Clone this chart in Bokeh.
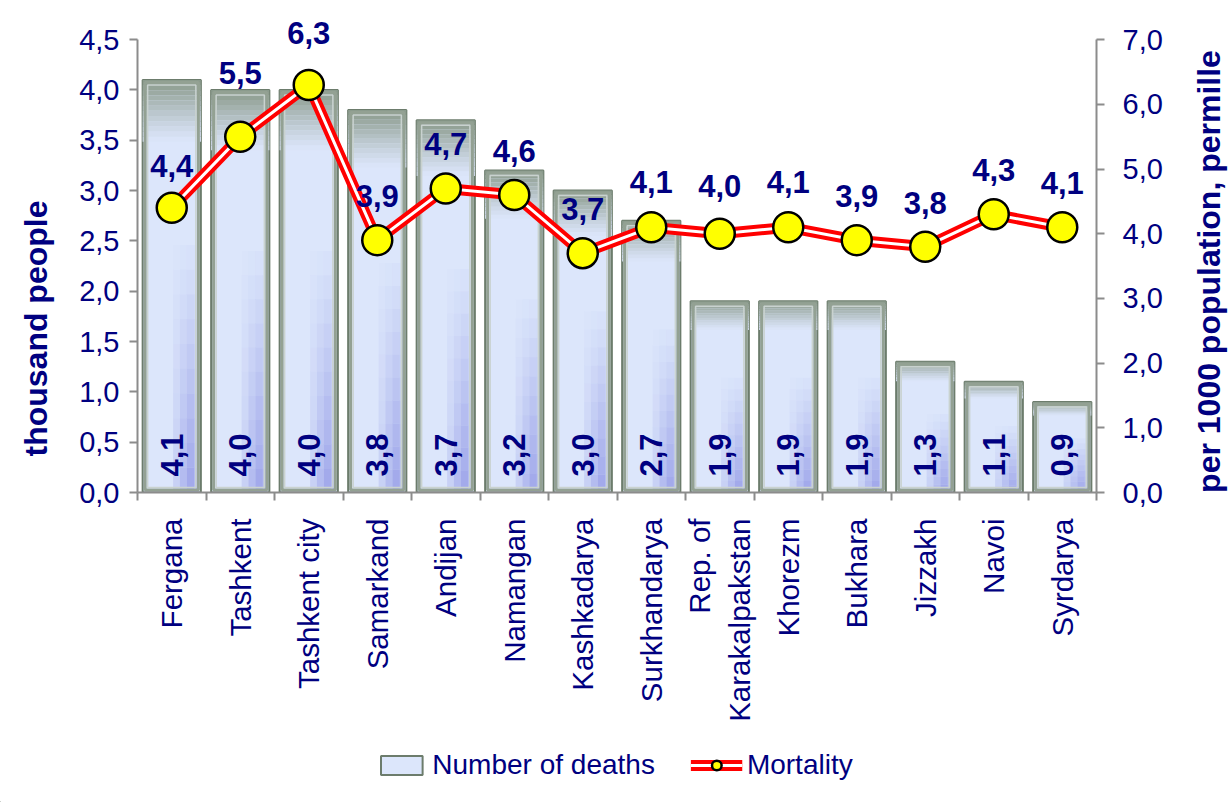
import numpy as np
from bokeh.plotting import figure
from bokeh.layouts import row, column
from bokeh.models import (Range1d, LinearAxis, FixedTicker, CustomJSTickFormatter,
                          Legend, LegendItem, ColumnDataSource)
from bokeh.core.properties import value
from bokeh.embed import file_html
from bokeh.resources import INLINE

# ---------------- data ----------------
regions = ["Fergana", "Tashkent", "Tashkent city", "Samarkand", "Andijan", "Namangan",
           "Kashkadarya", "Surkhandarya", "Rep. of\nKarakalpakstan", "Khorezm", "Bukhara",
           "Jizzakh", "Navoi", "Syrdarya"]
deaths = [4.1, 4.0, 4.0, 3.8, 3.7, 3.2, 3.0, 2.7, 1.9, 1.9, 1.9, 1.3, 1.1, 0.9]
mortality = [4.4, 5.5, 6.3, 3.9, 4.7, 4.6, 3.7, 4.1, 4.0, 4.1, 3.9, 3.8, 4.3, 4.1]
left_ticks = [0.0, 0.5, 1.0, 1.5, 2.0, 2.5, 3.0, 3.5, 4.0, 4.5]
right_ticks = [0.0, 1.0, 2.0, 3.0, 4.0, 5.0, 6.0, 7.0]
left_title = "thousand people"
right_title = "per 1000 population, permille"
series_names = ["Number of deaths", "Mortality"]

# label lift (px) of the mortality labels above their markers (style)
label_lift = [31, 53, 41, 33, 33, 33, 33, 34, 37, 34, 33, 33, 33, 33]

NAVY = "#000080"
FONT = "Liberation Sans"
AXIS = "#8c8c8c"

n = len(regions)
xc = np.arange(n) + 0.5
d = np.array(deaths)
m = np.array(mortality)

YL = 4.76
YR = YL * 7.0 / 4.5
FW, FH = 959, 479
PXX = n / FW      # one pixel in x units
PXY = YL / FH     # one pixel in y units

TOTAL_W = 1228
LEFT_W, RIGHT_W = 60, 62
TOP, BOTTOM = 13, 235
MAIN_H = TOP + FH + BOTTOM
LEG_H = 802 - MAIN_H

def fmt(v):
    return f"{v:.1f}".replace(".", ",")

def mix(c1, c2, t):
    a = [int(c1[i:i + 2], 16) for i in (1, 3, 5)]
    b = [int(c2[i:i + 2], 16) for i in (1, 3, 5)]
    return "#%02x%02x%02x" % tuple(int(round(a[k] + (b[k] - a[k]) * t)) for k in range(3))

def blank(w, h, yr):
    f = figure(width=w, height=h, x_range=Range1d(0, w), y_range=yr,
               output_backend="svg", toolbar_location=None,
               min_border_left=0, min_border_right=0, min_border_top=0, min_border_bottom=0)
    f.axis.visible = False
    f.grid.visible = False
    f.outline_line_color = None
    f.background_fill_color = "white"
    f.border_fill_color = "white"
    return f

p = figure(frame_width=FW, frame_height=FH, x_range=Range1d(0, n), y_range=Range1d(0, YL),
           output_backend="svg", toolbar_location=None,
           min_border_left=137 - LEFT_W, min_border_right=TOTAL_W - RIGHT_W - 137 - FW,
           min_border_top=TOP, min_border_bottom=BOTTOM)
p.extra_y_ranges = {"right": Range1d(0, YR)}
p.xgrid.visible = False
p.ygrid.visible = False
p.outline_line_color = None
p.background_fill_color = "white"
p.border_fill_color = "white"

# ---------------- axes ----------------
def style_y(ax, standoff):
    ax.major_label_text_font_size = "29px"
    ax.major_label_text_color = NAVY
    ax.major_label_text_font = FONT
    ax.axis_line_color = AXIS
    ax.axis_line_width = 2
    ax.major_tick_line_color = AXIS
    ax.major_tick_line_width = 2
    ax.major_tick_out = 8
    ax.major_tick_in = 0
    ax.minor_tick_line_color = None
    ax.major_label_standoff = standoff

ya = p.yaxis[0]
ya.ticker = FixedTicker(ticks=left_ticks)
ya.bounds = (0, 4.5)
ya.formatter = CustomJSTickFormatter(code="return tick.toFixed(1).replace('.', ',')")
style_y(ya, 10)

ra = LinearAxis(y_range_name="right", ticker=FixedTicker(ticks=right_ticks), bounds=(0, 7),
                formatter=CustomJSTickFormatter(code="return tick.toFixed(1).replace('.', ',')"))
style_y(ra, 18)
p.add_layout(ra, "right")

xa = p.xaxis[0]
xa.ticker = FixedTicker(ticks=list(xc), minor_ticks=list(range(n + 1)))
xa.formatter = CustomJSTickFormatter(args=dict(names=regions),
                                     code="return names[Math.round(tick - 0.5)]")
xa.major_label_orientation = np.pi / 2
xa.major_label_text_font_size = "29.5px"
xa.major_label_text_color = NAVY
xa.major_label_text_font = FONT
xa.major_tick_line_color = None
xa.major_tick_out = 8
xa.major_tick_in = 0
xa.minor_tick_line_color = AXIS
xa.minor_tick_line_width = 2
xa.minor_tick_out = 8
xa.minor_tick_in = 0
xa.axis_line_color = AXIS
xa.axis_line_width = 2
xa.major_label_standoff = 18

# ---------------- bars ----------------
W = 0.85
src = ColumnDataSource(dict(x=xc, top=d, lab=[fmt(v) for v in deaths]))
BAR_STYLE = dict(fill_color="#dce6fb", line_color="#6c7c6c", line_width=2)
base = p.vbar(x="x", width=W, top="top", bottom=0, source=src, **BAR_STYLE)

# gray-green shading at the top of each bar
steps = 12
for i in range(steps):
    f0 = 0.85 + 0.15 * i / steps
    f1 = 0.85 + 0.15 * (i + 1) / steps
    col = mix("#dce6fb", "#879787", ((i + 0.5) / steps) ** 1.2)
    p.vbar(x=xc, width=W, top=d * f1, bottom=d * f0, fill_color=col, line_color=None)

# bluish-purple tint at the lower right of each bar
strips = [(0.02, 0.12, 0.35), (0.12, 0.22, 0.7), (0.22, 0.33, 1.0), (0.33, 0.39, 0.7)]
vsteps = 10
for (a0, a1, fac) in strips:
    for j in range(vsteps):
        g0 = 0.6 * j / vsteps
        g1 = 0.6 * (j + 1) / vsteps
        alpha = fac * 0.7 * (1 - j / vsteps) ** 1.1
        p.vbar(x=xc + (a0 + a1) / 2, width=(a1 - a0), top=d * g1, bottom=d * g0,
               fill_color="#8a90e4", fill_alpha=alpha, line_color=None)

# bevel outlines
p.vbar(x=xc, width=W - 5 * PXX, top=d - 2.5 * PXY, bottom=2.5 * PXY,
       fill_color=None, line_color="#93a193", line_width=3)
p.vbar(x=xc, width=W - 10 * PXX, top=d - 5 * PXY, bottom=5 * PXY,
       fill_color=None, line_color="#c9d2cf", line_width=1.5)

p.text(x="x", y=0, text="lab", source=src, angle=np.pi / 2, text_align="left",
       text_baseline="middle", y_offset=-16, text_font=value(FONT), text_font_size="31px",
       text_font_style="bold", text_color=NAVY)

# ---------------- mortality line ----------------
msrc = ColumnDataSource(dict(x=xc, y=m, lab=[fmt(v) for v in mortality],
                             off=[-v for v in label_lift]))
RED = dict(line_color="#ff0000", line_width=11, line_join="miter")
WHT = dict(line_color="white", line_width=3, line_join="miter")
DOT = dict(fill_color="#ffff00", line_color="black", line_width=2.5)
p.line(x="x", y="y", source=msrc, y_range_name="right", **RED)
p.line(x="x", y="y", source=msrc, y_range_name="right", **WHT)
p.scatter(x="x", y="y", source=msrc, y_range_name="right", size=30, **DOT)
p.text(x="x", y="y", text="lab", source=msrc, y_range_name="right", y_offset="off",
       text_align="center", text_baseline="bottom", text_font=value(FONT),
       text_font_size="31px", text_font_style="bold", text_color=NAVY)

# ---------------- axis titles (side strips, frames aligned with the main frame) ----------------
TITLE_STYLE = dict(angle=np.pi / 2, text_align="center", text_baseline="middle",
                   text_font=value(FONT), text_font_size="32px", text_font_style="bold",
                   text_color=NAVY)
lf = blank(LEFT_W, MAIN_H, Range1d(TOP + FH, TOP))
lf.text(x=[35], y=[328], text=[left_title], **TITLE_STYLE)
rf = blank(RIGHT_W, MAIN_H, Range1d(TOP + FH, TOP))
rf.text(x=[1208 - (TOTAL_W - RIGHT_W)], y=[271], text=[right_title], **TITLE_STYLE)

# ---------------- legend strip ----------------
lg = blank(TOTAL_W, LEG_H, Range1d(0, LEG_H))
hidden = ColumnDataSource(dict(x=[-50, -40], y=[-50, -40], top=[-50, -40]))
r_bar = lg.vbar(x="x", width=1, top="top", source=hidden, **BAR_STYLE)
r_red = lg.line(x="x", y="y", source=hidden, **RED)
r_wht = lg.line(x="x", y="y", source=hidden, **WHT)
r_dot = lg.scatter(x="x", y="y", source=hidden, size=30, **DOT)
legend = Legend(items=[LegendItem(label=series_names[0], renderers=[r_bar]),
                       LegendItem(label=series_names[1], renderers=[r_red, r_wht, r_dot])],
                orientation="horizontal", location="center",
                label_text_font=FONT, label_text_font_size="28px", label_text_color=NAVY,
                glyph_width=52, glyph_height=24, label_standoff=5, spacing=35,
                padding=4, margin=0, border_line_color=None, background_fill_alpha=0)
lg.add_layout(legend, "center")

layout = column(row(lf, p, rf), lg)
open("out.html", "w").write(file_html(layout, INLINE))
